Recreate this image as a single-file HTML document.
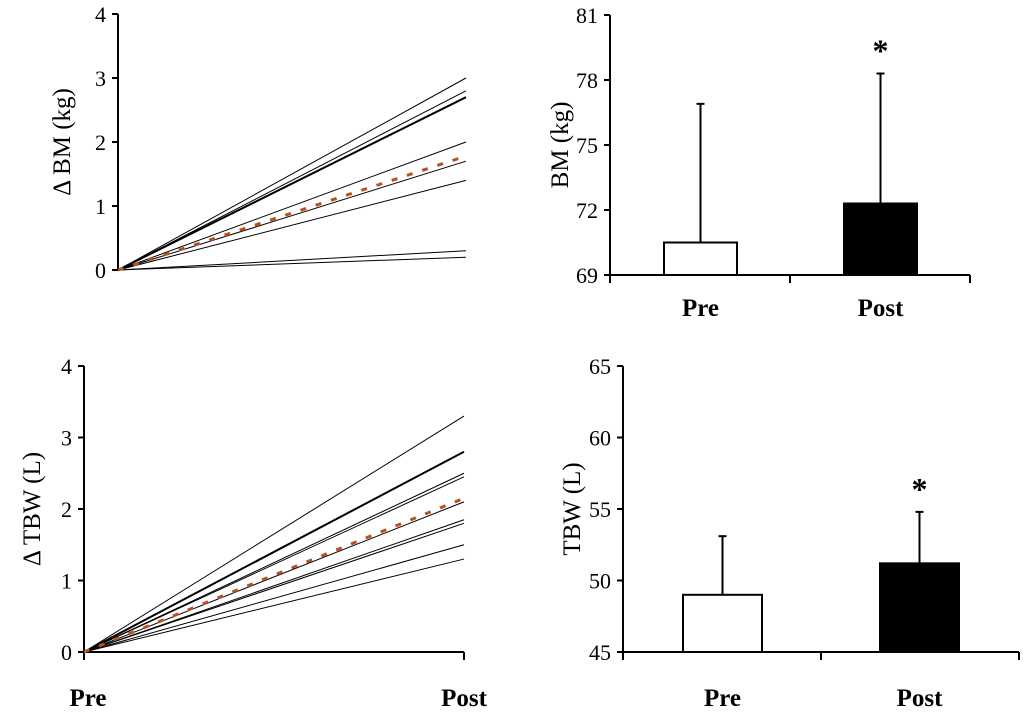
<!DOCTYPE html>
<html><head><meta charset="utf-8"><style>
body{margin:0;background:#fff}
svg{display:block;font-family:"Liberation Serif",serif}
.t{font-size:22px}
.b{font-size:25px;font-weight:bold}
</style></head><body>
<svg id="s" width="1024" height="712" xmlns="http://www.w3.org/2000/svg"></svg>
<script>
const bmChanges=[3.0,2.8,2.7,2.0,1.7,1.4,0.3,0.2];
const bmMeanChange=1.78;
const tbwChanges=[3.3,2.8,2.5,2.45,2.1,1.85,1.8,1.5,1.3];
const tbwMeanChange=2.15;
const deltaTicks=[0,1,2,3,4];
const bmCats=["Pre","Post"];
const bmMeans=[70.5,72.3];
const bmSD=[6.4,6.0];
const bmTicks=[69,72,75,78,81];
const tbwCats=["Pre","Post"];
const tbwMeans=[49.0,51.2];
const tbwSD=[4.1,3.6];
const tbwTicks=[45,50,55,60,65];

const S=document.getElementById('s');
const NS='http://www.w3.org/2000/svg';
function el(t,a,txt){const e=document.createElementNS(NS,t);for(const k in a)e.setAttribute(k,a[k]);if(txt!=null)e.textContent=txt;S.appendChild(e);return e;}

function linePanel(name,x0,x1,yTop,yBot,vals,mean,title,titleX,showX){
  const y=v=>yBot-(v/4)*(yBot-yTop);
  let e=el('line',{x1:x0,y1:yTop,x2:x0,y2:yBot,stroke:'#000','stroke-width':2});
  
  deltaTicks.forEach(t=>{
    let k=el('line',{x1:x0-6,y1:y(t),x2:x0,y2:y(t),stroke:'#000','stroke-width':2});
    
    let l=el('text',{x:x0-12,y:y(t)+8,'text-anchor':'end',class:'t'},t);
    
  });
  if(showX){
    let a=el('line',{x1:x0,y1:yBot,x2:x1,y2:yBot,stroke:'#000','stroke-width':2});
    
    [x0,x1].forEach(xx=>{let k=el('line',{x1:xx,y1:yBot,x2:xx,y2:yBot+8,stroke:'#000','stroke-width':2});
      });
    let p=el('text',{x:x0+4,y:706,'text-anchor':'middle',class:'b'},'Pre');
    
    let q=el('text',{x:x1,y:706,'text-anchor':'middle',class:'b'},'Post');
    
  }
  vals.forEach((v,i)=>{
    let l=el('line',{x1:x0,y1:yBot,x2:x1,y2:y(v),stroke:'#000','stroke-width':(i==1&&name=='tbw')||(i==2&&name=='bm')?2:1});
    
  });
  let m=el('line',{x1:x0,y1:yBot,x2:x1,y2:y(mean),stroke:'#b5521e','stroke-width':3,'stroke-dasharray':'6,10'});
  
  const cy=(yTop+yBot)/2;
  let t=el('text',{x:titleX,y:cy,'text-anchor':'middle',transform:`rotate(-90 ${titleX} ${cy})`,style:'font-size:25px'},title);
  
}
linePanel('bm',118,466,14,270,bmChanges,bmMeanChange,'Δ BM (kg)',70,false);
linePanel('tbw',84,464,366,652,tbwChanges,tbwMeanChange,'Δ TBW (L)',40,true);

function barPanel(name,x0,x1,yTop,yBot,ticks,cats,means,sd,bx,bw,title,titleX,labelY){
  const lo=ticks[0],hi=ticks[ticks.length-1];
  const y=v=>yBot-(v-lo)/(hi-lo)*(yBot-yTop);
  ticks.forEach(t=>{
    let k=el('line',{x1:x0-6,y1:y(t),x2:x0,y2:y(t),stroke:'#000','stroke-width':2});
    
    let l=el('text',{x:x0-12,y:y(t)+8,'text-anchor':'end',class:'t'},t);
    
  });
  const mid=(x0+x1)/2;
  cats.forEach((c,i)=>{
    const cx=bx[i]+bw/2;
    let e=el('line',{x1:cx,y1:y(means[i]),x2:cx,y2:y(means[i]+sd[i]),stroke:'#000','stroke-width':2});
    
    let ec=el('line',{x1:cx-4,y1:y(means[i]+sd[i]),x2:cx+4,y2:y(means[i]+sd[i]),stroke:'#000','stroke-width':2});
    
    let r=el('rect',{x:bx[i],y:y(means[i]),width:bw,height:yBot-y(means[i]),fill:i?'#000':'#fff',stroke:'#000','stroke-width':2});
    
    let l=el('text',{x:cx,y:labelY,'text-anchor':'middle',class:'b'},c);
    
    if(i==1){let s=el('text',{x:cx,y:y(means[i]+sd[i])-12,'text-anchor':'middle',style:'font-size:32px;font-weight:bold'},'*');
      }
  });
  let a=el('line',{x1:x0,y1:yTop,x2:x0,y2:yBot,stroke:'#000','stroke-width':2});
  
  let b=el('line',{x1:x0,y1:yBot,x2:x1,y2:yBot,stroke:'#000','stroke-width':2});
  
  [x0,mid,x1].forEach(xx=>{let k=el('line',{x1:xx,y1:yBot,x2:xx,y2:yBot+8,stroke:'#000','stroke-width':2});
    });
  const cy=(yTop+yBot)/2;
  let t=el('text',{x:titleX,y:cy,'text-anchor':'middle',transform:`rotate(-90 ${titleX} ${cy})`,style:'font-size:25px'},title);
  
}
barPanel('bm-abs',610,970,15,275,bmTicks,bmCats,bmMeans,bmSD,[664,844],73,'BM (kg)',568,316);
barPanel('tbw-abs',623,1019,366,652,tbwTicks,tbwCats,tbwMeans,tbwSD,[683,880],79,'TBW (L)',580,706);
</script>
</body></html>
